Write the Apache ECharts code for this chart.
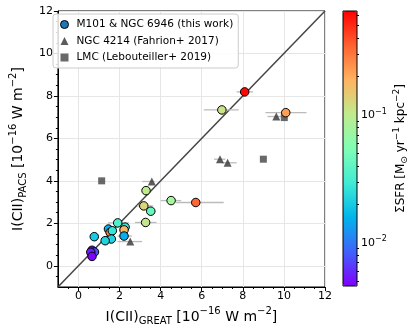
<!DOCTYPE html>
<html>
<head>
<meta charset="utf-8">
<script src="https://cdn.jsdelivr.net/npm/echarts@6/dist/echarts.min.js"></script>
<style>
  html, body { margin: 0; padding: 0; background: #fff; }
  #chart { width: 416px; height: 333px; }
</style>
</head>
<body>
<div id="chart"></div>
<script>
// M101 & NGC 6946 (this work): GREAT vs PACS, x error range, SFR surface density
const thisX = [8.09, 6.98, 10.09, 4.51, 5.71, 3.29, 3.18, 3.52, 3.27, 1.91, 2.27, 2.22, 2.22, 1.46, 1.54, 1.65, 1.6, 1.3, 0.77, 0.66, 0.78, 0.6, 0.66]
const thisY = [8.19, 7.34, 7.21, 3.07, 2.98, 3.54, 2.82, 2.57, 2.04, 2.02, 1.82, 1.69, 1.40, 1.73, 1.57, 1.65, 1.26, 1.18, 1.37, 0.73, 0.65, 0.64, 0.44]
const thisXLo = [7.7, 6.1, 9.1, 4.0, 4.75, 3.1, 2.85, 3.3, 2.75, 1.44, 2.1, 2.0, 1.9, 1.3, 1.4, 1.5, 1.45, 1.15, 0.6, 0.5, 0.65, 0.45, 0.5]
const thisXHi = [8.5, 7.8, 11.1, 5.0, 7.07, 3.5, 3.63, 3.75, 3.8, 2.46, 2.45, 2.4, 2.6, 1.6, 1.7, 1.8, 1.75, 1.45, 0.9, 0.8, 0.9, 0.75, 0.8]
const thisSfr = [0.62, 0.11, 0.22, 0.078, 0.34, 0.10, 0.13, 0.043, 0.105, 0.033, 0.027, 0.18, 0.015, 0.015, 0.30, 0.027, 0.022, 0.022, 0.020, 0.0059, 0.0076, 0.0057, 0.0047]

// NGC 4214 (Fahrion+ 2017)
const ngcX = [3.57, 6.89, 7.26, 9.63, 2.52]
const ngcY = [3.97, 5.02, 4.85, 7.03, 1.14]
const ngcXLo = [3.1, 6.6, 6.98, 9.2, 1.9]
const ngcXHi = [3.7, 7.15, 7.7, 9.9, 3.1]

// LMC (Lebouteiller+ 2019)
const lmcX = [10.02, 9.0, 1.13]
const lmcY = [6.98, 5.02, 4.0]

// 1:1 line ends
const oneToOne = [-1, 12]

// ticks
const majorTicks = [0, 2, 4, 6, 8, 10, 12]
const minorTicks = [-0.5, 0.5, 1, 1.5, 2.5, 3, 3.5, 4.5, 5, 5.5, 6.5, 7, 7.5, 8.5, 9, 9.5, 10.5, 11, 11.5]
const sfrMin = 0.0046
const sfrMax = 0.65
const sfrMajor = [0.01, 0.1]
const sfrMinor = [0.005, 0.006, 0.007, 0.008, 0.009, 0.02, 0.03, 0.04, 0.05, 0.06, 0.07, 0.08, 0.09, 0.2, 0.3, 0.4, 0.5, 0.6]

const rainbow = ['#8000ff', '#4062fa', '#00b5eb', '#40ecd4', '#80ffb4', '#c0eb8d', '#ffb360', '#ff6231', '#ff0000']

const FONT = 'DejaVu Sans'
const lg = Math.log10

const thisData = thisX.map((x, i) => [x, thisY[i], lg(thisSfr[i])])
const errData = thisX.map((x, i) => [thisXLo[i], thisXHi[i], thisY[i]])
  .concat(ngcX.map((x, i) => [ngcXLo[i], ngcXHi[i], ngcY[i]]))

const nameRich = {
  sub: { fontSize: 10, fontFamily: FONT, verticalAlign: 'bottom', lineHeight: 11, color: '#000' },
  sup: { fontSize: 10, fontFamily: FONT, verticalAlign: 'top', lineHeight: 11, color: '#000' }
}
const supLabel = {
  s: { fontSize: 8, fontFamily: FONT, verticalAlign: 'top', lineHeight: 8, color: '#000' },
  b: { fontSize: 11, fontFamily: FONT, lineHeight: 15, color: '#000' }
}

const chart = echarts.init(document.getElementById('chart'))

chart.setOption({
  animation: false,
  backgroundColor: '#fff',
  grid: [
    { left: 48, top: 11, width: 277, height: 276, show: true, borderColor: '#000', borderWidth: 1 },
    { left: 343, top: 11, width: 14, height: 275, show: true, borderColor: '#000', borderWidth: 1, z: 10 }
  ],
  legend: {
    orient: 'vertical',
    left: 53,
    top: 14,
    padding: [5, 5, 5, 7],
    itemGap: 5.5,
    itemWidth: 8,
    itemHeight: 8,
    selectedMode: false,
    backgroundColor: 'rgba(255,255,255,0.85)',
    borderColor: '#ccc',
    borderWidth: 1,
    borderRadius: 3,
    textStyle: { fontFamily: FONT, fontSize: 10.5, color: '#000', lineHeight: 11, padding: [0, 0, 0, 3] },
    data: [
      { name: 'M101 & NGC 6946 (this work)', icon: 'circle', itemStyle: { color: '#1f77b4', borderColor: '#000', borderWidth: 1 } },
      { name: 'NGC 4214 (Fahrion+ 2017)', icon: 'triangle', itemStyle: { color: '#333' } },
      { name: 'LMC (Lebouteiller+ 2019)', icon: 'rect', itemStyle: { color: '#444' } }
    ]
  },
  visualMap: {
    type: 'continuous',
    seriesIndex: 2,
    dimension: 2,
    min: lg(sfrMin),
    max: lg(sfrMax),
    inRange: { color: rainbow },
    calculable: false,
    hoverLink: false,
    text: null,
    orient: 'vertical',
    left: 343,
    top: 11,
    padding: 0,
    itemWidth: 14,
    itemHeight: 275
  },
  xAxis: [
    {
      type: 'value', gridIndex: 0, min: -1, max: 12, position: 'bottom',
      axisLine: { show: true, onZero: false, lineStyle: { color: '#000', width: 1 } },
      axisTick: { show: true, customValues: majorTicks, length: 4, lineStyle: { color: '#000' } },
      axisLabel: { customValues: majorTicks, color: '#000', fontSize: 11, fontFamily: FONT, margin: 4 },
      splitLine: { show: true, customValues: majorTicks, lineStyle: { color: '#e6e6e6', width: 1 } },
      name: 'I(CII){sub|GREAT} [10{sup|−16} W m{sup|−2}]',
      nameLocation: 'middle',
      nameGap: 18,
      nameTextStyle: { fontFamily: FONT, fontSize: 14, color: '#000', lineHeight: 20, rich: nameRich }
    },
    {
      type: 'value', gridIndex: 0, min: -1, max: 12, position: 'bottom',
      axisLine: { show: false, onZero: false },
      axisTick: { show: true, customValues: minorTicks, length: 2, lineStyle: { color: '#000' } },
      axisLabel: { show: false },
      splitLine: { show: false }
    },
    { type: 'value', gridIndex: 1, min: 0, max: 1, show: false }
  ],
  yAxis: [
    {
      type: 'value', gridIndex: 0, min: -1, max: 12, position: 'left',
      axisLine: { show: true, onZero: false, lineStyle: { color: '#000', width: 1 } },
      axisTick: { show: true, customValues: majorTicks, length: 4, lineStyle: { color: '#000' } },
      axisLabel: { customValues: majorTicks, color: '#000', fontSize: 11, fontFamily: FONT, margin: 5 },
      splitLine: { show: true, customValues: majorTicks, lineStyle: { color: '#e6e6e6', width: 1 } },
      name: 'I(CII){sub|PACS} [10{sup|−16} W m{sup|−2}]',
      nameLocation: 'middle',
      nameGap: 22,
      nameTextStyle: { fontFamily: FONT, fontSize: 14, color: '#000', lineHeight: 20, rich: nameRich }
    },
    {
      type: 'value', gridIndex: 0, min: -1, max: 12, position: 'left',
      axisLine: { show: false, onZero: false },
      axisTick: { show: true, customValues: minorTicks, length: 2, lineStyle: { color: '#000' } },
      axisLabel: { show: false },
      splitLine: { show: false }
    },
    {
      type: 'value', gridIndex: 1, min: lg(sfrMin), max: lg(sfrMax), position: 'right',
      axisLine: { show: false },
      axisTick: { show: true, customValues: sfrMajor.map(lg), length: 4, lineStyle: { color: '#000' } },
      axisLabel: {
        customValues: sfrMajor.map(lg), margin: 4, color: '#000',
        formatter: v => '{b|10}{s|−' + Math.round(-v) + '}',
        rich: supLabel
      },
      splitLine: { show: false },
      name: 'ΣSFR [M{sub|⊙} yr{sup|−1} kpc{sup|−2}]',
      nameLocation: 'middle',
      nameGap: 35,
      nameRotate: 90,
      nameTextStyle: {
        fontFamily: FONT, fontSize: 12, color: '#000', lineHeight: 17,
        rich: {
          sub: { fontSize: 9, fontFamily: FONT, verticalAlign: 'bottom', lineHeight: 9, color: '#000' },
          sup: { fontSize: 9, fontFamily: FONT, verticalAlign: 'top', lineHeight: 9, color: '#000' }
        }
      }
    },
    {
      type: 'value', gridIndex: 1, min: lg(sfrMin), max: lg(sfrMax), position: 'right',
      axisLine: { show: false },
      axisTick: { show: true, customValues: sfrMinor.map(lg), length: 2, lineStyle: { color: '#000' } },
      axisLabel: { show: false },
      splitLine: { show: false }
    }
  ],
  series: [
    {
      // 1:1 line
      type: 'line',
      xAxisIndex: 0, yAxisIndex: 0,
      data: [[oneToOne[0], oneToOne[0]], [oneToOne[1], oneToOne[1]]],
      symbol: 'none',
      lineStyle: { color: '#444', width: 1.5 },
      z: 1,
      silent: true
    },
    {
      // x error bars
      type: 'custom',
      xAxisIndex: 0, yAxisIndex: 0,
      data: errData,
      encode: { x: [0, 1], y: 2 },
      renderItem: (params, api) => {
        const y = api.value(2)
        const p1 = api.coord([api.value(0), y])
        const p2 = api.coord([api.value(1), y])
        return {
          type: 'line',
          shape: { x1: p1[0], y1: p1[1], x2: p2[0], y2: p2[1] },
          style: { stroke: '#bbb', lineWidth: 1.3 }
        }
      },
      z: 2,
      silent: true
    },
    {
      name: 'M101 & NGC 6946 (this work)',
      type: 'scatter',
      xAxisIndex: 0, yAxisIndex: 0,
      data: thisData,
      symbol: 'circle',
      symbolSize: 8.5,
      itemStyle: { borderColor: '#000', borderWidth: 1, opacity: 1 },
      z: 4
    },
    {
      name: 'NGC 4214 (Fahrion+ 2017)',
      type: 'scatter',
      xAxisIndex: 0, yAxisIndex: 0,
      data: ngcX.map((x, i) => [x, ngcY[i]]),
      symbol: 'triangle',
      symbolSize: 8,
      itemStyle: { color: '#333' },
      z: 3
    },
    {
      name: 'LMC (Lebouteiller+ 2019)',
      type: 'scatter',
      xAxisIndex: 0, yAxisIndex: 0,
      data: lmcX.map((x, i) => [x, lmcY[i]]),
      symbol: 'rect',
      symbolSize: 7,
      itemStyle: { color: '#444' },
      z: 3
    }
  ]
})
</script>
</body>
</html>
